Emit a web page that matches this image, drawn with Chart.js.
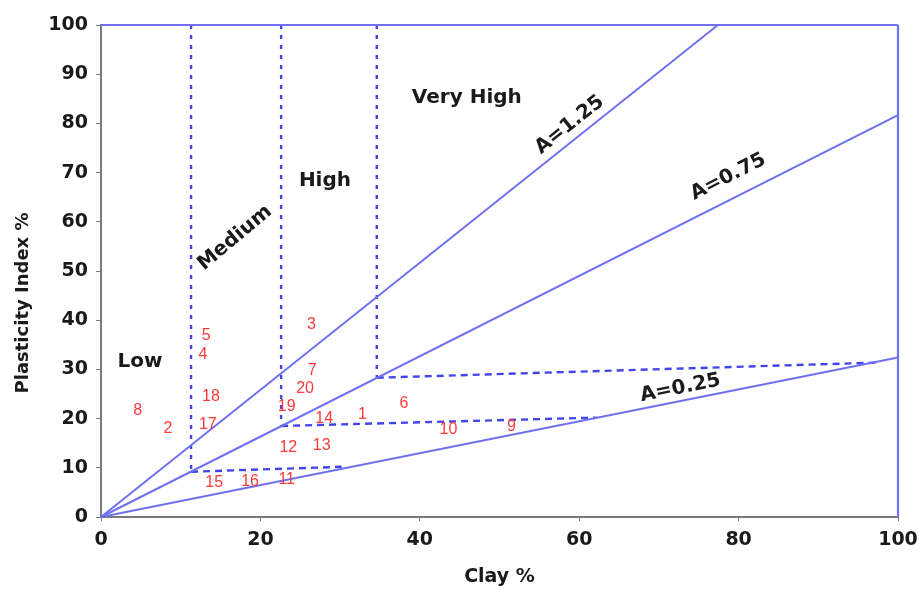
<!DOCTYPE html>
<html>
<head>
<meta charset="utf-8">
<script src="https://cdn.jsdelivr.net/npm/chart.js@4"></script>
<style>
  html, body { margin: 0; padding: 0; background: #fff; }
  #wrap { width: 921px; height: 592px; }
</style>
</head>
<body>
<div id="wrap"><canvas id="chart" width="921" height="592"></canvas></div>
<script>
// Soil samples: sample number, clay content (%) and plasticity index (%)
const sampleIds  = [1, 2, 3, 4, 5, 6, 7, 8, 9, 10, 11, 12, 13, 14, 15, 16, 17, 18, 19, 20];
const clayPct    = [32.8, 8.4, 26.4, 12.8, 13.2, 38.0, 26.5, 4.6, 51.5, 43.6, 23.3, 23.5, 27.7, 28.0, 14.2, 18.7, 13.4, 13.8, 23.3, 25.6];
const plastIndex = [20.9, 17.9, 39.1, 33.0, 36.9, 23.1, 29.7, 21.7, 18.3, 17.7, 7.7, 14.1, 14.6, 19.9, 7.0, 7.2, 18.7, 24.4, 22.4, 26.1];

// Activity lines through the origin (clay %, PI %)
const activityNames = ['A=1.25', 'A=0.75', 'A=0.25'];
const activityClay  = [[0, 77.4], [0, 100], [0, 100]];
const activityPI    = [[0, 100], [0, 81.7], [0, 32.4]];

// Frame of the plot (top edge and right edge)
const frameClay = [[0, 100], [100, 100]];
const framePI   = [[100, 100], [0, 100]];

// Swelling-potential zone boundaries (dashed)
const zoneClay = [
  [11.3, 11.3], [22.6, 22.6], [34.6, 34.6],
  [11.3, 30.2], [22.6, 62.2], [34.6, 97.7]
];
const zonePI = [
  [100, 9.2], [100, 18.5], [100, 28.3],
  [9.2, 10.2], [18.5, 20.2], [28.3, 31.4]
];

// Zone names
const zoneNames = ['Low', 'Medium', 'High', 'Very High'];

// Axis ticks and titles
const xTickStep = 20;
const yTickStep = 10;
const xTitle = 'Clay %';
const yTitle = 'Plasticity Index %';

const toPoints = (xs, ys) => xs.map((v, i) => ({ x: v, y: ys[i] }));

const SOLID = 'rgb(112,112,242)';
const DASHED = 'rgb(68,68,236)';
const INK = '#1a1a1a';
const BOLD_FONT = 'bold 20px "DejaVu Sans"';

const datasets = [];
activityNames.forEach((name, i) => {
  datasets.push({
    label: name,
    data: toPoints(activityClay[i], activityPI[i]),
    showLine: true, borderColor: SOLID, borderWidth: 2,
    pointRadius: 0, clip: false
  });
});
frameClay.forEach((xs, i) => {
  datasets.push({
    label: 'frame' + i,
    data: toPoints(xs, framePI[i]),
    showLine: true, borderColor: SOLID, borderWidth: 2.2,
    pointRadius: 0, clip: false
  });
});
zoneClay.forEach((xs, i) => {
  const vertical = i < 3;
  datasets.push({
    label: 'zone' + i,
    data: toPoints(xs, zonePI[i]),
    showLine: true, borderColor: DASHED, borderWidth: 2.4,
    borderDash: vertical ? [4, 6] : [7, 5],
    pointRadius: 0, clip: false
  });
});
const sampleIndex = datasets.length;
datasets.push({
  label: 'samples',
  data: toPoints(clayPct, plastIndex),
  showLine: false, pointRadius: 0, borderColor: 'rgb(250,60,60)'
});

// Where the zone names sit (data units) and their rotation in degrees
const zoneLabelPos = [
  { clay: 4.9, pi: 31.5, rot: 0 },
  { clay: 16.8, pi: 56.7, rot: -40 },
  { clay: 28.1, pi: 68.3, rot: 0 },
  { clay: 45.9, pi: 85.2, rot: 0 }
];
// Activity labels sit along their lines
const activityLabelPos = [
  { clay: 58.8, pi: 79.7 },
  { clay: 78.7, pi: 69.1 },
  { clay: 72.7, pi: 26.2 }
];

const textPlugin = {
  id: 'plotText',
  afterDatasetsDraw(chart) {
    const { ctx, scales: { x, y } } = chart;
    ctx.save();
    ctx.textAlign = 'center';
    ctx.textBaseline = 'middle';

    // sample numbers at their points
    ctx.font = '16px "Liberation Sans"';
    ctx.fillStyle = 'rgb(252,58,58)';
    chart.getDatasetMeta(sampleIndex).data.forEach((pt, i) => {
      ctx.fillText(String(sampleIds[i]), pt.x, pt.y);
    });

    ctx.fillStyle = INK;
    ctx.font = BOLD_FONT;
    zoneNames.forEach((name, i) => {
      const p = zoneLabelPos[i];
      ctx.save();
      ctx.translate(x.getPixelForValue(p.clay), y.getPixelForValue(p.pi));
      ctx.rotate(p.rot * Math.PI / 180);
      ctx.fillText(name, 0, 0);
      ctx.restore();
    });

    activityNames.forEach((name, i) => {
      const meta = chart.getDatasetMeta(i).data;
      const a = meta[0], b = meta[meta.length - 1];
      const ang = Math.atan2(b.y - a.y, b.x - a.x);
      const p = activityLabelPos[i];
      ctx.save();
      ctx.translate(x.getPixelForValue(p.clay), y.getPixelForValue(p.pi));
      ctx.rotate(ang);
      ctx.fillText(name, 0, 0);
      ctx.restore();
    });

    // vertical axis title, set a little below the axis middle
    ctx.font = 'bold 18px "DejaVu Sans"';
    ctx.save();
    ctx.translate(23, y.getPixelForValue(43.5));
    ctx.rotate(-Math.PI / 2);
    ctx.fillText(yTitle, 0, 0);
    ctx.restore();
    ctx.restore();
  }
};

new Chart(document.getElementById('chart'), {
  type: 'scatter',
  data: { datasets },
  plugins: [textPlugin],
  options: {
    responsive: false,
    animation: false,
    layout: { padding: { top: 25, right: 23, left: 0, bottom: 0 } },
    plugins: { legend: { display: false }, tooltip: { enabled: false } },
    scales: {
      x: {
        type: 'linear', min: 0, max: 100,
        afterFit(scale) { scale.height = 75; scale.paddingRight = 0; scale.paddingLeft = 0; },
        border: { display: true, color: '#7a7a7a', width: 2 },
        grid: { drawOnChartArea: false, drawTicks: true, tickLength: 4, color: '#7a7a7a' },
        ticks: { stepSize: xTickStep, padding: 8, color: INK,
                 font: { family: 'DejaVu Sans', weight: 'bold', size: 19 } },
        title: { display: true, text: xTitle, color: INK,
                 padding: { top: 0, bottom: 4 },
                 font: { family: 'DejaVu Sans', weight: 'bold', size: 19 } }
      },
      y: {
        type: 'linear', min: 0, max: 100,
        afterFit(scale) { scale.width = 101; },
        border: { display: true, color: '#7a7a7a', width: 2 },
        grid: { drawOnChartArea: false, drawTicks: true, tickLength: 5, color: '#7a7a7a' },
        ticks: { stepSize: yTickStep, padding: 8, color: INK,
                 font: { family: 'DejaVu Sans', weight: 'bold', size: 19 } },
        title: { display: false }
      }
    }
  }
});
</script>
</body>
</html>
